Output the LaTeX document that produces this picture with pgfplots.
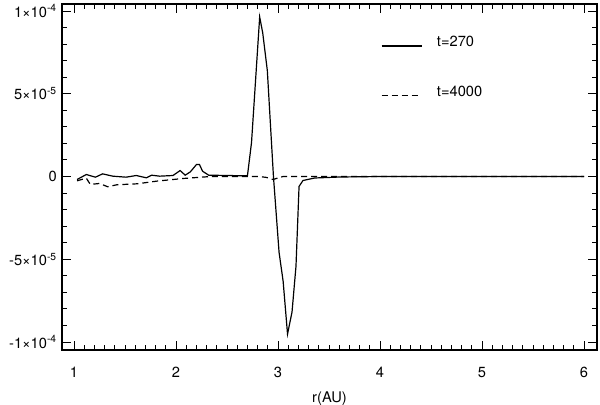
\documentclass[border=0pt]{standalone}
\usepackage{fontspec}
\setmainfont{TeX Gyre Heros}
\usepackage{pgfplots}
\pgfplotsset{compat=1.18}

\begin{document}
\fontsize{11}{13}\selectfont
\begin{tikzpicture}
  \begin{axis}[
      scale only axis,
      width=401.25pt,
      height=259.5pt,
      xmin=0.882, xmax=6.127,
      ymin=-1.0482e-4, ymax=1.0422e-4,
      xtick={1,2,3,4,5,6},
      minor x tick num=9,
      ytick={-1e-4,-5e-5,0,5e-5,1e-4},
      yticklabels={-1×10\textsuperscript{-4},-5×10\textsuperscript{-5},0,5×10\textsuperscript{-5},1×10\textsuperscript{-4}},
      minor y tick num=4,
      scaled y ticks=false,
      tick align=inside,
      major tick length=7pt,
      minor tick length=3.5pt,
      every tick/.style={black, line width=0.7pt},
      axis line style={line width=0.9pt},
      /pgf/number format/assume math mode=true,
      xticklabel style={yshift=-9pt},
      xlabel={r(AU)},
      xlabel style={yshift=-3pt},
      legend style={draw=none, fill=none, at={(rel axis cs:0.596,0.9075)}, anchor=north west,
        inner sep=0pt, row sep=28pt, nodes={inner sep=0pt, anchor=west},
        /tikz/every odd column/.append style={column sep=11pt}},
      legend image code/.code={\draw[#1] (0pt,-2.5pt) -- (30pt,-2.5pt);},
    ]
    \addplot[black, line width=0.9pt] coordinates {
      (1.03,-0.18e-5) (1.12,0.12e-5) (1.21,-0.04e-5) (1.28,0.16e-5) (1.38,0.02e-5)
      (1.51,-0.04e-5) (1.61,0.06e-5) (1.71,-0.08e-5) (1.76,0.08e-5) (1.84,0.02e-5)
      (1.97,0.06e-5) (2.04,0.36e-5) (2.09,0.08e-5) (2.14,0.28e-5) (2.20,0.72e-5)
      (2.23,0.72e-5) (2.26,0.32e-5) (2.32,0.08e-5) (2.70,0.04e-5) (2.74,2.05e-5)
      (2.82,9.64e-5) (2.85,8.67e-5) (2.895,6.40e-5) (2.955,0) (3.01,-4.58e-5)
      (3.05,-6.33e-5) (3.093,-9.52e-5) (3.137,-8.19e-5) (3.176,-5.42e-5)
      (3.206,-0.60e-5) (3.245,-0.24e-5) (3.36,-0.09e-5) (3.61,-0.03e-5)
      (4.0,0) (6.0,0)};
    \addlegendentry{t=270}
    \addplot[black, line width=0.9pt, dash pattern=on 4.5pt off 3pt] coordinates {
      (1.03,-0.26e-5) (1.12,-0.10e-5) (1.16,-0.48e-5) (1.25,-0.42e-5) (1.33,-0.62e-5)
      (1.42,-0.50e-5) (1.62,-0.44e-5) (1.81,-0.28e-5) (2.07,-0.12e-5) (2.34,0.0)
      (2.82,0) (2.89,-0.06e-5) (2.95,-0.18e-5) (3.05,0) (6.0,0)};
    \addlegendentry{t=4000}
  \end{axis}
  \pgfresetboundingbox
  \path[use as bounding box] ([xshift=-46.5pt,yshift=-40.5pt]current axis.south west)
    rectangle ([xshift=2.25pt,yshift=3pt]current axis.north east);
\end{tikzpicture}
\end{document}
